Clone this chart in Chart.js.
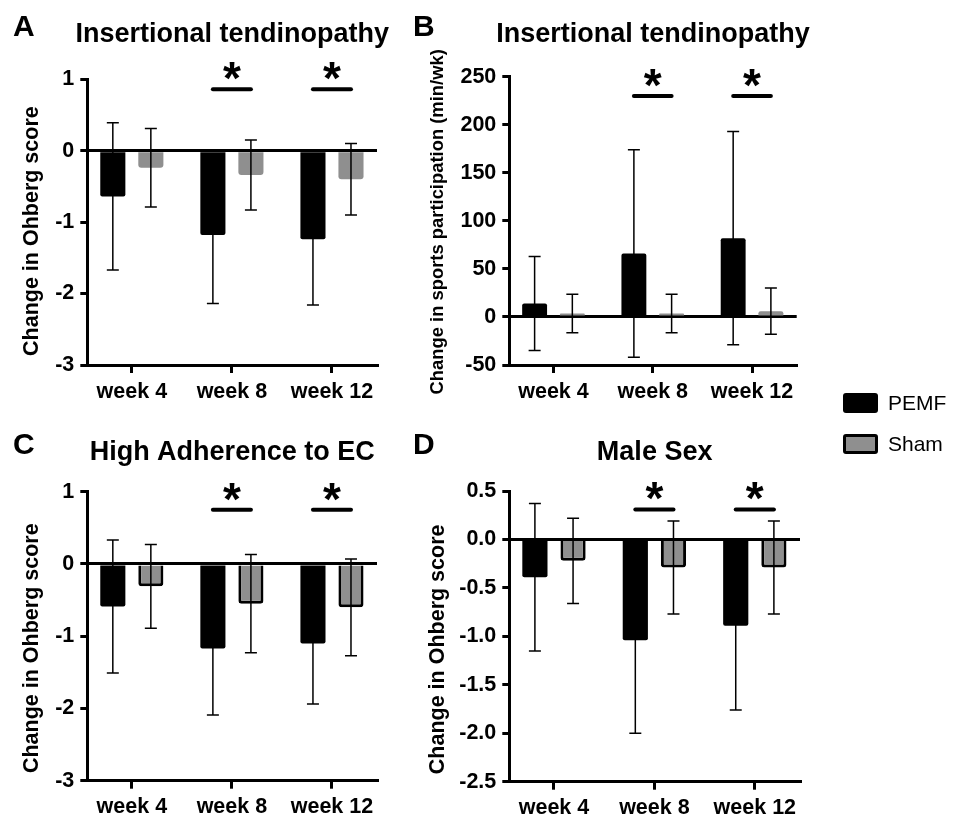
<!DOCTYPE html>
<html>
<head>
<meta charset="utf-8">
<script src="https://cdn.jsdelivr.net/npm/chart.js@4.4.0/dist/chart.umd.min.js"></script>
<style>
html,body{margin:0;padding:0;background:#fff;}
body{width:953px;height:820px;position:relative;overflow:hidden;font-family:"Liberation Sans",Arial,sans-serif;}
.panel{position:absolute;height:410px;}
#legend{position:absolute;left:843px;top:393px;}
.item{display:flex;align-items:center;height:20px;margin-bottom:21px;font-size:21px;color:#000;}
.swatch{width:35px;height:20px;box-sizing:border-box;border-radius:3px;margin-right:10px;}
</style>
</head>
<body>
<div class="panel" style="left:0;top:0;width:400px"><canvas id="cA" width="400" height="410"></canvas></div>
<div class="panel" style="left:400px;top:0;width:553px"><canvas id="cB" width="553" height="410"></canvas></div>
<div class="panel" style="left:0;top:410px;width:400px"><canvas id="cC" width="400" height="410"></canvas></div>
<div class="panel" style="left:400px;top:410px;width:553px"><canvas id="cD" width="553" height="410"></canvas></div>
<div id="legend"></div>
<script>
// ---------- data ----------
const weeks = ['week 4', 'week 8', 'week 12'];
const seriesNames = ['PEMF', 'Sham'];
const sigWeeks = [1, 2]; // week 8 and week 12 significant

// A: Insertional tendinopathy, change in Ohberg score (mean, SD)
const insOhbergPEMF = [-0.64, -1.18, -1.24];
const insOhbergPEMFsd = [1.03, 0.96, 0.92];
const insOhbergSham = [-0.24, -0.34, -0.40];
const insOhbergShamSd = [0.55, 0.49, 0.50];

// B: Insertional tendinopathy, change in sports participation (min/wk)
const insSportPEMF = [14, 66, 82];
const insSportPEMFsd = [49, 108, 111];
const insSportSham = [3.5, 3.5, 6];
const insSportShamSd = [20, 20, 24];

// C: High adherence to EC, change in Ohberg score
const adhOhbergPEMF = [-0.59, -1.17, -1.10];
const adhOhbergPEMFsd = [0.92, 0.92, 0.84];
const adhOhbergSham = [-0.31, -0.55, -0.60];
const adhOhbergShamSd = [0.58, 0.68, 0.67];

// D: Male sex, change in Ohberg score
const maleOhbergPEMF = [-0.39, -1.04, -0.89];
const maleOhbergPEMFsd = [0.76, 0.96, 0.87];
const maleOhbergSham = [-0.22, -0.29, -0.29];
const maleOhbergShamSd = [0.44, 0.48, 0.48];

// ---------- styling ----------
const FONT = '"Liberation Sans", Arial, Helvetica, sans-serif';
Chart.defaults.font.family = FONT;
Chart.defaults.color = '#000';
const PEMF_COLOR = '#000000';
const SHAM_COLOR = '#8f8f8f';
const TITLE_SIZE = 27;
const TICK_SIZE = 21.5;

const errorBars = {
  id: 'errorBars',
  afterDatasetsDraw(chart) {
    const ctx = chart.ctx, ys = chart.scales.y;
    chart.data.datasets.forEach((ds, di) => {
      const meta = chart.getDatasetMeta(di);
      meta.data.forEach((bar, i) => {
        const v = ds.data[i].y, e = ds.errors[i];
        const yt = ys.getPixelForValue(v + e), yb = ys.getPixelForValue(v - e);
        ctx.save();
        ctx.strokeStyle = '#000';
        ctx.lineWidth = 1.5;
        ctx.beginPath();
        ctx.moveTo(bar.x, yt); ctx.lineTo(bar.x, yb);
        ctx.moveTo(bar.x - 6, yt); ctx.lineTo(bar.x + 6, yt);
        ctx.moveTo(bar.x - 6, yb); ctx.lineTo(bar.x + 6, yb);
        ctx.stroke();
        ctx.restore();
      });
    });
  }
};

// panel letter, title, y-axis title and significance markers
const panelDecor = {
  id: 'panelDecor',
  afterDraw(chart, args, opts) {
    const ctx = chart.ctx;
    const ca = chart.chartArea;
    ctx.save();
    ctx.fillStyle = '#000';
    ctx.textBaseline = 'middle';
    // title
    ctx.font = 'bold ' + TITLE_SIZE + 'px ' + FONT;
    ctx.textAlign = 'center';
    ctx.fillText(opts.title, (ca.left + ca.right) / 2, opts.titleY);
    // letter
    ctx.font = 'bold 30px ' + FONT;
    ctx.textAlign = 'left';
    ctx.fillText(opts.letter, opts.letterX, opts.titleY - 7);
    // y axis title
    ctx.save();
    ctx.translate(opts.yTitleX, (ca.top + ca.bottom) / 2 + opts.yTitleShift);
    ctx.rotate(-Math.PI / 2);
    ctx.font = 'bold ' + opts.yTitleSize + 'px ' + FONT;
    ctx.textAlign = 'center';
    ctx.fillText(opts.yTitle, 0, 0);
    ctx.restore();
    // significance bars
    const m0 = chart.getDatasetMeta(0), m1 = chart.getDatasetMeta(1);
    const y = chart.scales.y.getPixelForValue(opts.sigLevel);
    opts.sigWeeks.forEach(w => {
      const xs = m0.data[w].x, xe = m1.data[w].x;
      ctx.strokeStyle = '#000';
      ctx.lineWidth = 4;
      ctx.lineCap = 'round';
      ctx.beginPath();
      ctx.moveTo(xs, y); ctx.lineTo(xe, y);
      ctx.stroke();
      const size = 46;
      ctx.font = 'bold ' + size + 'px ' + FONT;
      ctx.textAlign = 'center';
      ctx.textBaseline = 'alphabetic';
      ctx.fillText('*', (xs + xe) / 2, y - 21 + 0.565 * size);
    });
    ctx.restore();
  }
};

function makePanel(id, cfg) {
  const mk = (arr) => arr.map((v, i) => ({ x: i, y: v }));
  return new Chart(document.getElementById(id), {
    type: 'bar',
    data: {
      datasets: [
        { label: seriesNames[0], data: mk(cfg.pemf), errors: cfg.pemfSd,
          backgroundColor: PEMF_COLOR, borderWidth: 0, borderRadius: 2,
          categoryPercentage: 0.76, barPercentage: 0.66 },
        { label: seriesNames[1], data: mk(cfg.sham), errors: cfg.shamSd,
          backgroundColor: SHAM_COLOR, borderColor: '#000', borderWidth: cfg.shamBorder, borderRadius: 3,
          categoryPercentage: 0.76, barPercentage: 0.66 }
      ]
    },
    options: {
      responsive: false,
      animation: false,
      layout: { padding: { top: cfg.top, left: 0, right: cfg.padRight, bottom: 0 } },
      plugins: {
        legend: { display: false },
        tooltip: { enabled: false },
        title: { display: false },
        panelDecor: { letter: cfg.letter, letterX: 13, title: cfg.title, titleY: cfg.titleY,
          yTitle: cfg.yTitle, yTitleSize: cfg.yTitleSize, yTitleX: cfg.yTitleX, yTitleShift: cfg.yTitleShift,
          sigLevel: cfg.sigLevel, sigWeeks: sigWeeks }
      },
      scales: {
        x: {
          type: 'linear', min: -0.445, max: 2.45, offset: false,
          afterBuildTicks: (s) => { s.ticks = weeks.map((w, i) => ({ value: i })); },
          afterFit: (s) => { s.height = cfg.xH; },
          ticks: { callback: (v) => weeks[v], font: { size: TICK_SIZE, weight: 'bold' }, color: '#000',
            padding: cfg.xPad, maxRotation: 0, autoSkip: false },
          grid: { offset: false, drawOnChartArea: false, tickLength: 8, tickColor: '#000', color: '#000', lineWidth: 3 },
          border: { color: '#000', width: 3 }
        },
        y: {
          min: cfg.yMin, max: cfg.yMax,
          afterFit: (s) => { s.width = cfg.yW; },
          ticks: { stepSize: cfg.step, callback: cfg.fmt, font: { size: TICK_SIZE, weight: 'bold' }, color: '#000', padding: 6 },
          grid: { color: (c) => (c.tick && Math.abs(c.tick.value) < 1e-9) ? '#000' : 'rgba(0,0,0,0)',
            tickColor: '#000', tickLength: 7, lineWidth: 3 },
          border: { color: '#000', width: 3 }
        }
      }
    },
    plugins: [errorBars, panelDecor]
  });
}

const intFmt = (v) => String(v);
const oneDec = (v) => v.toFixed(1);

makePanel('cA', { letter: 'A', title: 'Insertional tendinopathy', titleY: 35, top: 79.2,
  pemf: insOhbergPEMF, pemfSd: insOhbergPEMFsd, sham: insOhbergSham, shamSd: insOhbergShamSd, shamBorder: 0,
  yMin: -3, yMax: 1, step: 1, fmt: intFmt,
  yTitle: 'Change in Ohberg score', yTitleSize: 21.5, yTitleX: 32, yTitleShift: 9,
  yW: 87.3, padRight: 23, xH: 45, xPad: 6, sigLevel: 0.86 });

makePanel('cB', { letter: 'B', title: 'Insertional tendinopathy', titleY: 35, top: 76.7,
  pemf: insSportPEMF, pemfSd: insSportPEMFsd, sham: insSportSham, shamSd: insSportShamSd, shamBorder: 0,
  yMin: -50, yMax: 250, step: 50, fmt: intFmt,
  yTitle: 'Change in sports participation (min/wk)', yTitleSize: 18.4, yTitleX: 38, yTitleShift: 1,
  yW: 109.3, padRight: 156.3, xH: 45, xPad: 6, sigLevel: 230 });

makePanel('cC', { letter: 'C', title: 'High Adherence to EC', titleY: 43, top: 81.7,
  pemf: adhOhbergPEMF, pemfSd: adhOhbergPEMFsd, sham: adhOhbergSham, shamSd: adhOhbergShamSd, shamBorder: 3,
  yMin: -3, yMax: 1, step: 1, fmt: intFmt,
  yTitle: 'Change in Ohberg score', yTitleSize: 21.5, yTitleX: 32, yTitleShift: 12,
  yW: 87.3, padRight: 23, xH: 39.3, xPad: 5, sigLevel: 0.75 });

makePanel('cD', { letter: 'D', title: 'Male Sex', titleY: 43, top: 81,
  pemf: maleOhbergPEMF, pemfSd: maleOhbergPEMFsd, sham: maleOhbergSham, shamSd: maleOhbergShamSd, shamBorder: 3,
  yMin: -2.5, yMax: 0.5, step: 0.5, fmt: oneDec,
  yTitle: 'Change in Ohberg score', yTitleSize: 21.5, yTitleX: 38, yTitleShift: 13,
  yW: 109.3, padRight: 153, xH: 38.3, xPad: 5, sigLevel: 0.31 });

// legend
const legendEl = document.getElementById('legend');
const legendStyles = [
  { bg: PEMF_COLOR, border: 'none' },
  { bg: SHAM_COLOR, border: '3px solid #000' }
];
seriesNames.forEach((name, i) => {
  const item = document.createElement('div');
  item.className = 'item';
  const sw = document.createElement('div');
  sw.className = 'swatch';
  sw.style.background = legendStyles[i].bg;
  sw.style.border = legendStyles[i].border;
  const label = document.createElement('span');
  label.textContent = name;
  item.appendChild(sw);
  item.appendChild(label);
  legendEl.appendChild(item);
});
</script>
</body>
</html>
